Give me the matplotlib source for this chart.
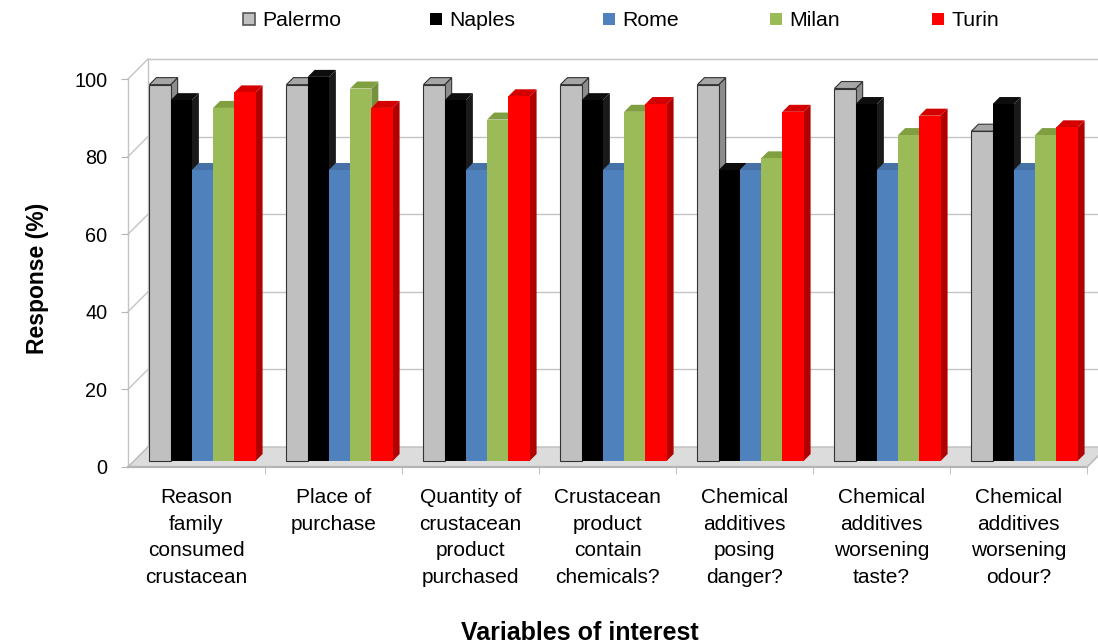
import matplotlib
matplotlib.use("Agg")
import matplotlib.pyplot as plt
from matplotlib.patches import Polygon, Rectangle

plt.rcParams['font.family'] = ['Liberation Sans', 'DejaVu Sans']

categories = ['Reason\nfamily\nconsumed\ncrustacean',
              'Place of\npurchase',
              'Quantity of\ncrustacean\nproduct\npurchased',
              'Crustacean\nproduct\ncontain\nchemicals?',
              'Chemical\nadditives\nposing\ndanger?',
              'Chemical\nadditives\nworsening\ntaste?',
              'Chemical\nadditives\nworsening\nodour?']
cities = ['Palermo', 'Naples', 'Rome', 'Milan', 'Turin']
palermo = [97, 97, 97, 97, 97, 96, 85]
naples = [93, 99, 93, 93, 75, 92, 92]
rome = [75, 75, 75, 75, 75, 75, 75]
milan = [91, 96, 88, 90, 78, 84, 84]
turin = [95, 91, 94, 92, 90, 89, 86]
series = [palermo, naples, rome, milan, turin]

# front, side, top colours for each city
front_c = ['#C0C0C0', '#000000', '#4F81BD', '#9BBB59', '#FF0000']
side_c = ['#8C8C8C', '#1A1A1A', '#3A6395', '#76923C', '#B00000']
top_c = ['#A6A6A6', '#0D0D0D', '#4672A8', '#7F9F40', '#D40000']
edge_c = ['#333333', 'none', 'none', 'none', 'none']

W, H = 1098, 644
fig = plt.figure(figsize=(W / 100, H / 100), dpi=100)

# pixel geometry of the plot box
x_left, x_right = 128, 1087
y_zero, px_unit = 467, 3.88
ytop = 106
ax = fig.add_axes([x_left / W, (H - y_zero) / H, (x_right - x_left) / W, ytop * px_unit / H])
ncat = len(categories)
ax.set_xlim(-0.5, ncat - 0.5)
ax.set_ylim(0, ytop)
px_x = (x_right - x_left) / ncat


def depth(px):
    # offset (in data units) for a point pushed back px pixels
    return px / px_x, px / px_unit


# walls and floor
Dx, Dy = depth(20)
grid_col = '#C4C4C4'
floor = Polygon([(-0.5, 0), (ncat - 0.5, 0), (ncat - 0.5 + Dx, Dy), (-0.5 + Dx, Dy)],
                closed=True, facecolor='#DCDCDC', edgecolor='#BDBDBD', lw=1, zorder=1, clip_on=False)
ax.add_patch(floor)
ax.plot([-0.5, ncat - 0.5], [0, 0], color='#B5B5B5', lw=1.6, zorder=1.5, clip_on=False)
ax.plot([ncat - 0.5, ncat - 0.5 + Dx], [0, Dy], color='#BDBDBD', lw=1, zorder=1.5, clip_on=False)
for v in range(0, 101, 20):
    ax.plot([-0.5, -0.5 + Dx], [v, v + Dy], color=grid_col, lw=1, zorder=0.5, clip_on=False)
    if v > 0:
        ax.plot([-0.5 + Dx, ncat + 0.5], [v + Dy, v + Dy], color=grid_col, lw=1, zorder=0.5, clip_on=False)
ax.plot([-0.5, -0.5], [0, 100], color=grid_col, lw=1, zorder=0.5, clip_on=False)
ax.plot([-0.5 + Dx, -0.5 + Dx], [Dy, 100 + Dy], color=grid_col, lw=1, zorder=0.5, clip_on=False)

# 3d-looking bars
w = 0.155
d0x, d0y = depth(6)
d1x, d1y = depth(13)
for i in range(ncat):
    for j, vals in enumerate(series):
        v = vals[i]
        x = i - 2.5 * w + j * w + d0x
        z = 2 + i * 0.01 + j * 0.001
        side = Polygon([(x + w, d0y), (x + w + d1x - d0x, d1y), (x + w + d1x - d0x, v + d1y), (x + w, v + d0y)],
                       closed=True, facecolor=side_c[j], edgecolor=edge_c[j], lw=0.8, zorder=z)
        top = Polygon([(x, v + d0y), (x + w, v + d0y), (x + w + d1x - d0x, v + d1y), (x + d1x - d0x, v + d1y)],
                      closed=True, facecolor=top_c[j], edgecolor=edge_c[j], lw=0.8, zorder=z)
        ax.add_patch(side)
        ax.add_patch(top)
        ax.bar(x, v, width=w, bottom=d0y, align='edge', color=front_c[j],
               edgecolor=edge_c[j], lw=0.8, zorder=z + 0.0005)

# axes decoration
for s in ax.spines.values():
    s.set_visible(False)
ax.set_yticks(range(0, 101, 20))
ax.tick_params(axis='y', length=5, color='#B5B5B5', pad=10, labelsize=14.3)
ax.set_xticks(range(ncat))
ax.set_xticklabels(categories, fontsize=15)
ax.set_xticks([k + 0.5 for k in range(ncat)], minor=True)
ax.tick_params(axis='x', which='major', length=0, pad=15)
ax.tick_params(axis='x', which='minor', length=5, color='#B5B5B5')
for lab in ax.get_xticklabels():
    lab.set_linespacing(1.52)

fig.text(38 / W, 1 - 278 / H, 'Response (%)', rotation=90, ha='center', va='center',
         fontsize=16.5, fontweight='bold')
fig.text(580 / W, 1 - 633 / H, 'Variables of interest', ha='center', va='center',
         fontsize=18, fontweight='bold')

# legend along the top
leg_sq = [243, 430, 603, 770, 932]
for j, name in enumerate(cities):
    sx = leg_sq[j]
    fig.patches.append(Rectangle((sx / W, 1 - 25 / H), 12 / W, 12 / H, transform=fig.transFigure,
                                 facecolor=front_c[j], edgecolor='#555555' if j == 0 else front_c[j],
                                 lw=1.2 if j == 0 else 0))
    fig.text((sx + 19) / W, 1 - 20 / H, name, ha='left', va='center', fontsize=15.3)

fig.savefig('out.png', dpi=100)
